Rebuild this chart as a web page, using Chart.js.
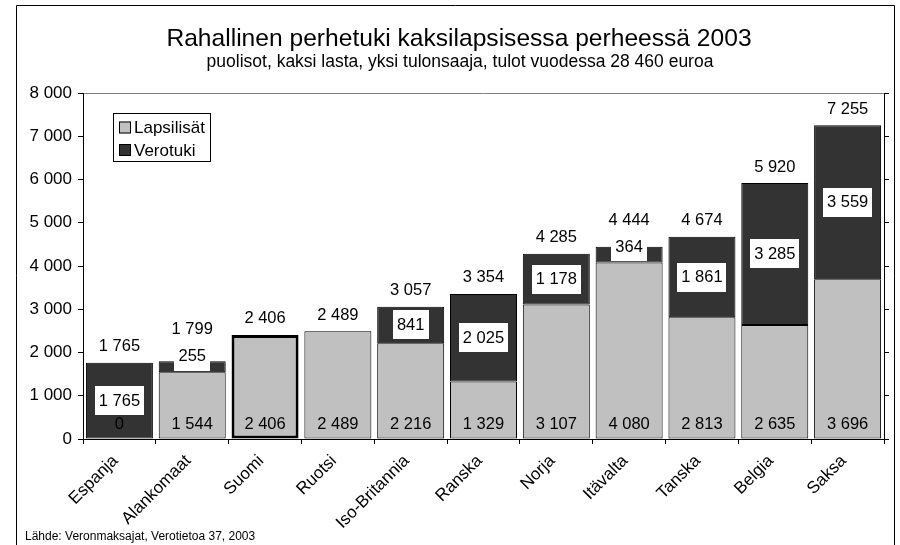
<!DOCTYPE html>
<html>
<head>
<meta charset="utf-8">
<script src="https://cdn.jsdelivr.net/npm/chart.js@4/dist/chart.umd.min.js"></script>
<style>
  html, body { margin: 0; padding: 0; background: #ffffff; }
  #wrap { position: relative; width: 900px; height: 545px; }
</style>
</head>
<body>
<div id="wrap"><canvas id="c" width="900" height="545"></canvas></div>
<script>
const categories = ["Espanja", "Alankomaat", "Suomi", "Ruotsi", "Iso-Britannia", "Ranska", "Norja", "Itävalta", "Tanska", "Belgia", "Saksa"];
const lapsilisat = [0, 1544, 2406, 2489, 2216, 1329, 3107, 4080, 2813, 2635, 3696];
const verotuki   = [1765, 255, 0, 0, 841, 2025, 1178, 364, 1861, 3285, 3559];
const totals     = [1765, 1799, 2406, 2489, 3057, 3354, 4285, 4444, 4674, 5920, 7255];
const yTicks     = [0, 1000, 2000, 3000, 4000, 5000, 6000, 7000, 8000];
const titleText    = "Rahallinen perhetuki kaksilapsisessa perheessä 2003";
const subtitleText = "puolisot, kaksi lasta, yksi tulonsaaja, tulot vuodessa 28 460 euroa";
const sourceText   = "Lähde: Veronmaksajat, Verotietoa 37, 2003";
const seriesNames  = ["Lapsilisät", "Verotuki"];
const highlighted  = "Suomi";

const FONT = '"Liberation Sans", Arial, Helvetica, sans-serif';
const LIGHT = '#c0c0c0';
const DARK = '#333333';

function fmt(v) {
  return String(v).replace(/\B(?=(\d{3})+(?!\d))/g, ' ');
}

const decorPlugin = {
  id: 'decor',
  beforeDraw(chart) {
    const ctx = chart.ctx;
    const a = chart.chartArea;
    ctx.save();
    ctx.fillStyle = '#ffffff';
    ctx.fillRect(0, 0, chart.width, chart.height);
    // outer frame
    ctx.strokeStyle = '#000000';
    ctx.lineWidth = 1;
    ctx.beginPath();
    ctx.moveTo(16.5, chart.height);
    ctx.lineTo(16.5, 5.5);
    ctx.lineTo(894.5, 5.5);
    ctx.lineTo(894.5, chart.height);
    ctx.stroke();
    // top border of plot area
    ctx.strokeStyle = '#808080';
    ctx.beginPath();
    ctx.moveTo(a.left, Math.round(a.top) + 0.5);
    ctx.lineTo(a.right, Math.round(a.top) + 0.5);
    ctx.stroke();
    // titles
    ctx.fillStyle = '#000000';
    ctx.textAlign = 'center';
    ctx.textBaseline = 'alphabetic';
    ctx.font = '24.6px ' + FONT;
    ctx.fillText(titleText, 459, 46);
    ctx.font = '17.5px ' + FONT;
    ctx.fillText(subtitleText, 460, 67);
    // source
    ctx.textAlign = 'left';
    ctx.font = '12px ' + FONT;
    ctx.fillText(sourceText, 25, 540);
    ctx.restore();
  },
  afterDatasetsDraw(chart) {
    const ctx = chart.ctx;
    const a = chart.chartArea;
    const yScale = chart.scales.y;
    const m0 = chart.getDatasetMeta(0);
    const m1 = chart.getDatasetMeta(1);
    ctx.save();
    ctx.font = '16.5px ' + FONT;
    ctx.textAlign = 'center';
    ctx.textBaseline = 'middle';
    ctx.fillStyle = '#000000';
    const base = yScale.getPixelForValue(0);
    const h = 29;
    for (let i = 0; i < categories.length; i++) {
      const x = m0.data[i].x;
      // Lapsilisät at bottom of bar
      ctx.fillStyle = '#000000';
      ctx.fillText(fmt(lapsilisat[i]), x, base - 15);
      const topY = yScale.getPixelForValue(totals[i]);
      let totalY = topY - 16;
      // Verotuki with white box
      if (verotuki[i] > 0) {
        const bar = m1.data[i];
        const top = bar.y, bottom = bar.base;
        const segH = bottom - top;
        const txt = fmt(verotuki[i]);
        const w = ctx.measureText(txt).width + 8;
        let cy = (top + bottom) / 2;
        if (segH < h) {
          cy = bottom - 1.5 - h / 2;
          totalY = Math.min(totalY, cy - h / 2 - 12);
        }
        ctx.fillStyle = '#ffffff';
        ctx.fillRect(Math.round(x - w / 2), Math.round(cy - h / 2), Math.round(w), h);
        ctx.fillStyle = '#000000';
        ctx.fillText(txt, x, cy + 0.5);
      }
      // total above bar
      ctx.fillStyle = '#000000';
      ctx.fillText(fmt(totals[i]), x, totalY);
    }
    // legend
    const lx = a.left + 30, ly = a.top + 20, lw = 98, lh = 49;
    ctx.fillStyle = '#ffffff';
    ctx.fillRect(lx, ly, lw, lh);
    ctx.strokeStyle = '#000000';
    ctx.lineWidth = 1;
    ctx.strokeRect(lx + 0.5, ly + 0.5, lw - 1, lh - 1);
    const cols = [LIGHT, DARK];
    ctx.font = '17px ' + FONT;
    ctx.textAlign = 'left';
    for (let k = 0; k < 2; k++) {
      const cy = ly + 14.5 + k * 22.5;
      ctx.fillStyle = cols[k];
      ctx.fillRect(lx + 6, cy - 6, 12, 12);
      ctx.strokeStyle = '#000000';
      ctx.strokeRect(lx + 6.5, cy - 5.5, 11, 11);
      ctx.fillStyle = '#000000';
      ctx.fillText(seriesNames[k], lx + 21, cy + 1);
    }
    ctx.restore();
  }
};

const borderWidths = categories.map(c => c === highlighted ? 3 : 1);

new Chart(document.getElementById('c'), {
  type: 'bar',
  data: {
    labels: categories,
    datasets: [
      {
        label: seriesNames[0],
        data: lapsilisat,
        backgroundColor: LIGHT,
        borderColor: '#000000',
        borderWidth: borderWidths,
        borderSkipped: false,
        barPercentage: 0.92,
        categoryPercentage: 1.0
      },
      {
        label: seriesNames[1],
        data: verotuki,
        backgroundColor: DARK,
        borderColor: '#000000',
        borderWidth: 1,
        borderSkipped: false,
        barPercentage: 0.92,
        categoryPercentage: 1.0
      }
    ]
  },
  options: {
    responsive: false,
    animation: false,
    devicePixelRatio: 1,
    layout: { padding: { top: 93, left: 0, right: 0, bottom: 0 } },
    plugins: {
      legend: { display: false },
      title: { display: false },
      tooltip: { enabled: false }
    },
    scales: {
      x: {
        stacked: true,
        grid: { display: true, drawOnChartArea: false, offset: true, tickLength: 5, color: '#000000' },
        border: { display: true, color: '#000000', width: 1 },
        ticks: {
          color: '#000000',
          font: { family: FONT, size: 17 },
          maxRotation: 45,
          minRotation: 45,
          padding: 7,
          labelOffset: -4,
          autoSkip: false
        },
        afterFit(s) { s.height = 106; }
      },
      y: {
        stacked: true,
        position: 'left',
        min: 0,
        max: 8000,
        afterBuildTicks(s) { s.ticks = yTicks.map(v => ({ value: v })); },
        grid: { display: true, drawOnChartArea: false, tickLength: 5, color: '#000000' },
        border: { display: true, color: '#000000', width: 1 },
        ticks: {
          color: '#000000',
          font: { family: FONT, size: 17 },
          padding: 6,
          callback: v => fmt(v)
        },
        afterFit(s) { s.width = 83; }
      },
      y2: {
        position: 'right',
        min: 0,
        max: 8000,
        afterBuildTicks(s) { s.ticks = yTicks.map(v => ({ value: v })); },
        grid: { display: true, drawOnChartArea: false, tickLength: 5, color: '#000000' },
        border: { display: true, color: '#000000', width: 1 },
        ticks: { display: false },
        afterFit(s) { s.width = 16; }
      }
    }
  },
  plugins: [decorPlugin]
});
</script>
</body>
</html>
